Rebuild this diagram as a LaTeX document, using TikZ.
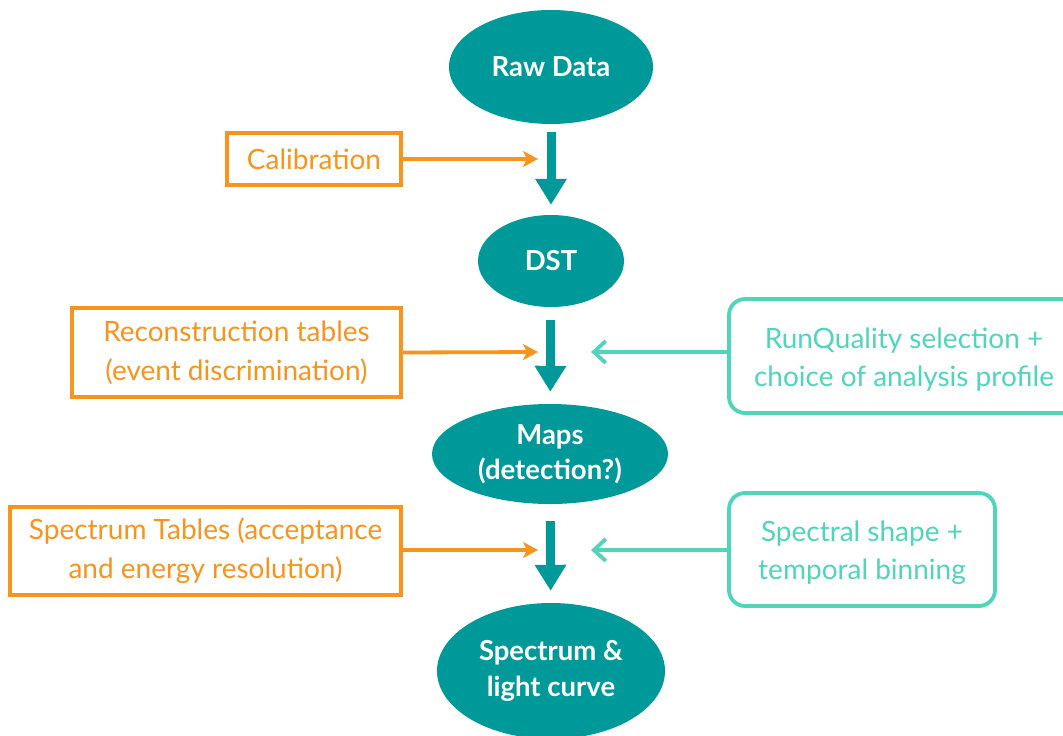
\documentclass[tikz,border=0pt]{standalone}
\usepackage{fontspec}
\setmainfont{Lato}
\usetikzlibrary{arrows.meta,shapes.geometric}
\definecolor{teal1}{RGB}{0,153,153}
\definecolor{orng}{RGB}{247,148,29}
\definecolor{mint}{RGB}{80,212,186}
\tikzset{
  stage/.style={ellipse,fill=teal1,text=white,font=\fontsize{27.5}{35.5}\selectfont\bfseries,align=center,inner sep=0pt},
  obox/.style={draw=orng,line width=3.8pt,text=orng,font=\fontsize{28}{39}\selectfont,align=center,inner sep=0pt},
  gbox/.style={draw=mint,line width=3.8pt,rounded corners=16pt,text=mint,font=\fontsize{28}{38}\selectfont,align=center,inner sep=0pt},
  mainarrow/.style={draw=teal1,line width=9pt,-{Triangle[length=26pt,width=30pt]}},
  oarrow/.style={draw=orng,line width=3.8pt,-{Stealth[length=15pt,width=16pt,inset=4pt]}},
  garrow/.style={draw=mint,line width=3.8pt,-{Straight Barb[length=12pt,width=22pt]}},
}
\newcommand{\lowstrut}{\rule{0pt}{27pt}}
\begin{document}
\begin{tikzpicture}[x=1pt,y=-1pt]
\useasboundingbox (0,0) rectangle (1063,736);
% stages
\node[stage,minimum width=204pt,minimum height=114pt] (raw) at (551,67) {Raw Data};
\node[stage,minimum width=146pt,minimum height=92pt] (dst) at (551,261) {DST};
\node[stage,minimum width=236pt,minimum height=100pt] (maps) at (550,454) {Maps\\(detection?)};
\node[stage,minimum width=228pt,minimum height=136pt] (spec) at (551,671) {Spectrum \&\\light curve};
% main arrows
\draw[mainarrow,shorten <=8pt,shorten >=10pt] (raw) -- (dst);
\draw[mainarrow,shorten <=13pt,shorten >=12pt] (dst) -- (maps);
\draw[mainarrow,shorten <=17pt,shorten >=12pt] (maps) -- (spec);
% side inputs
\node[obox,minimum width=174pt,minimum height=52pt] (cal) at (314,159) {Calibration};
\node[obox,minimum width=329pt,minimum height=89pt] (rec) at (236.5,352.5) {Reconstruction tables\\(event discrimination)};
\node[obox,minimum width=391pt,minimum height=88pt] (spt) at (205.5,551) {Spectrum Tables (acceptance\\and energy resolution)};
\node[gbox,minimum width=350pt,minimum height=114pt] (rq) at (904,356) {\lowstrut RunQuality selection +\\choice of analysis profile};
\node[gbox,minimum width=266pt,minimum height=113pt] (ss) at (862,549.5) {\lowstrut Spectral shape +\\temporal binning};
\coordinate (c1) at (538,159);
\coordinate (c2) at (538,352);
\coordinate (c3) at (538,550);
\coordinate (d2) at (591,352);
\coordinate (d3) at (591,550);
\draw[oarrow] (cal.east) -- (c1);
\draw[oarrow] (rec.east) -- (c2);
\draw[oarrow] (spt.east |- c3) -- (c3);
\draw[garrow] (rq.west |- d2) -- (d2);
\draw[garrow] (ss.west |- d3) -- (d3);
\end{tikzpicture}
\end{document}
